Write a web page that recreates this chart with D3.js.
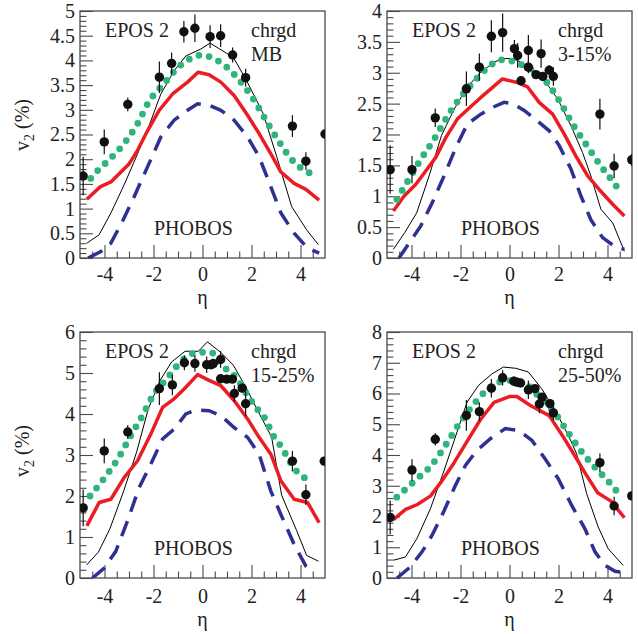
<!DOCTYPE html>
<html><head><meta charset="utf-8">
<script src="https://cdn.jsdelivr.net/npm/d3@7"></script>
<style>html,body{margin:0;padding:0;background:#fff}svg{display:block}
svg text{font-family:"Liberation Serif","DejaVu Serif",serif !important;}</style>
</head><body><svg id="c" width="638" height="634" font-family="Liberation Serif, DejaVu Serif, serif"></svg>
<script>
// ---------------- DATA ----------------
const panelLabels = ["MB", "3-15%", "15-25%", "25-50%"];
const modelLabel = "EPOS 2";
const particleLabel = "chrgd";
const expLabel = "PHOBOS";
const xTicks = [-4, -2, 0, 2, 4];
const yTicksMB = [0, 0.5, 1, 1.5, 2, 2.5, 3, 3.5, 4, 4.5, 5];
const yTicks3_15 = [0, 0.5, 1, 1.5, 2, 2.5, 3, 3.5, 4];
const yTicks15_25 = [0, 1, 2, 3, 4, 5, 6];
const yTicks25_50 = [0, 1, 2, 3, 4, 5, 6, 7, 8];

// PHOBOS data points: eta, v2 (%), error
const etaMB = [-4.87, -4.01, -3.05, -1.76, -1.26, -0.76, -0.31, 0.31, 0.74, 1.23, 1.76, 3.67, 4.22, 5.0];
const v2MB = [1.66, 2.35, 3.11, 3.66, 3.94, 4.58, 4.65, 4.48, 4.50, 4.11, 3.65, 2.67, 1.96, 2.51];
const errMB = [0.39, 0.25, 0.14, 0.32, 0.22, 0.22, 0.28, 0.23, 0.23, 0.15, 0.18, 0.22, 0.18, 0.1];

const eta3_15 = [-4.87, -3.98, -3.03, -1.76, -1.23, -0.74, -0.28, 0.2, 0.33, 0.47, 0.77, 0.77, 1.08, 1.29, 1.36, 1.62, 1.79, 3.69, 4.27, 4.99];
const v23_15 = [1.43, 1.43, 2.27, 2.74, 3.09, 3.59, 3.65, 3.39, 3.28, 2.87, 3.36, 3.09, 2.97, 3.31, 2.94, 3.04, 2.94, 2.33, 1.49, 1.59];
const err3_15 = [0.39, 0.22, 0.15, 0.28, 0.22, 0.26, 0.31, 0.14, 0.2, 0.04, 0.25, 0.1, 0.05, 0.23, 0.05, 0.08, 0.15, 0.25, 0.2, 0.1];

const eta15_25 = [-4.87, -4.01, -3.05, -1.76, -1.23, -0.74, -0.31, 0.17, 0.35, 0.44, 0.74, 0.74, 0.99, 1.22, 1.30, 1.62, 1.76, 3.67, 4.22, 4.97];
const v215_25 = [1.71, 3.10, 3.56, 4.62, 4.71, 5.25, 5.23, 5.20, 5.20, 5.23, 5.33, 4.86, 4.85, 4.85, 4.50, 4.63, 4.25, 2.85, 2.03, 2.85];
const err15_25 = [0.45, 0.3, 0.17, 0.4, 0.25, 0.18, 0.2, 0.2, 0.1, 0.1, 0.2, 0.08, 0.05, 0.05, 0.2, 0.1, 0.3, 0.25, 0.25, 0.1];

const eta25_50 = [-4.87, -3.98, -3.03, -1.76, -1.23, -0.74, -0.28, 0.18, 0.30, 0.45, 0.77, 1.04, 1.22, 1.33, 1.65, 1.79, 3.69, 4.27, 4.99];
const v225_50 = [1.97, 3.51, 4.51, 5.29, 5.41, 6.17, 6.51, 6.40, 6.37, 6.34, 6.12, 6.16, 5.66, 5.88, 5.67, 5.37, 3.75, 2.34, 2.67];
const err25_50 = [0.55, 0.35, 0.2, 0.5, 0.3, 0.3, 0.25, 0.15, 0.15, 0.1, 0.3, 0.1, 0.3, 0.1, 0.1, 0.25, 0.3, 0.3, 0.1];

// EPOS curves: [eta, v2]
const greenMB = [[-4.56,1.61],[-4.22,1.80],[-3.85,1.97],[-3.20,2.32],[-2.65,2.72],[-2.18,3.17],[-1.59,3.52],[-0.95,3.88],[-0.34,4.07],[-0.03,4.11],[0.31,4.07],[0.95,3.88],[1.52,3.59],[2.11,3.19],[2.61,2.77],[3.13,2.35],[3.70,1.96],[4.05,1.81],[4.49,1.70]];
const redMB = [[-4.72,1.19],[-4.18,1.44],[-3.74,1.54],[-2.99,1.91],[-2.65,2.18],[-2.24,2.58],[-1.77,2.99],[-1.22,3.32],[-0.61,3.56],[-0.18,3.76],[0.27,3.71],[0.75,3.56],[1.29,3.29],[1.84,2.89],[2.31,2.52],[2.79,2.11],[3.20,1.74],[3.74,1.51],[4.22,1.39],[4.76,1.17]];
const blackMB = [[-4.72,0.30],[-4.22,0.47],[-3.74,0.91],[-3.20,1.48],[-2.65,2.11],[-2.18,2.68],[-1.70,3.32],[-1.16,3.79],[-0.68,4.09],[-0.07,4.23],[0.31,4.35],[1.26,4.06],[1.80,3.59],[2.48,2.92],[3.03,2.05],[3.64,1.04],[4.25,0.57],[4.73,0.27]];
const blueMB = [[-4.67,0.0],[-4.15,0.13],[-3.74,0.30],[-3.27,0.74],[-2.79,1.24],[-2.24,1.85],[-1.70,2.45],[-1.16,2.79],[-0.61,2.99],[-0.20,3.12],[0.27,3.09],[0.75,2.99],[1.29,2.79],[1.84,2.45],[2.31,2.05],[2.79,1.44],[3.20,0.91],[3.74,0.50],[4.29,0.20],[4.76,0.10]];

const green3_15 = [[-4.60,0.95],[-4.10,1.28],[-3.60,1.61],[-3.05,1.94],[-2.56,2.28],[-2.02,2.59],[-1.44,2.86],[-0.87,3.09],[-0.31,3.21],[-0.01,3.20],[0.30,3.16],[0.94,3.04],[1.59,2.81],[2.13,2.48],[2.62,2.14],[3.16,1.82],[3.71,1.50],[4.31,1.19],[4.58,1.03]];
const red3_15 = [[-4.74,0.76],[-4.31,1.00],[-3.83,1.19],[-3.42,1.41],[-3.01,1.63],[-2.60,1.95],[-2.13,2.25],[-1.61,2.44],[-1.17,2.60],[-0.76,2.74],[-0.29,2.90],[0.33,2.84],[0.74,2.77],[1.21,2.52],[1.76,2.33],[2.23,2.01],[2.71,1.65],[3.19,1.33],[3.66,1.11],[4.21,0.87],[4.69,0.68]];
const black3_15 = [[-4.74,0.14],[-4.28,0.41],[-3.79,0.73],[-3.28,1.33],[-2.78,1.98],[-2.26,2.41],[-1.72,2.77],[-1.17,3.01],[-0.63,3.17],[-0.29,3.23],[0.05,3.23],[0.33,3.20],[0.87,3.07],[1.42,2.88],[1.96,2.58],[2.51,2.14],[2.98,1.71],[3.32,1.33],[3.73,0.79],[4.21,0.57],[4.69,0.11]];
const blue3_15 = [[-4.51,0.0],[-4.10,0.24],[-3.62,0.52],[-3.15,0.90],[-2.67,1.33],[-2.19,1.79],[-1.72,2.17],[-1.17,2.33],[-0.69,2.44],[-0.22,2.52],[0.12,2.50],[0.60,2.39],[1.14,2.22],[1.62,2.06],[2.03,1.82],[2.51,1.44],[2.92,1.00],[3.32,0.62],[3.80,0.33],[4.28,0.19],[4.69,0.14]];

const green15_25 = [[-4.59,2.00],[-3.99,2.45],[-3.40,2.96],[-2.93,3.47],[-2.45,3.96],[-2.00,4.47],[-1.43,4.88],[-0.86,5.29],[-0.30,5.49],[0.31,5.51],[0.88,5.14],[1.36,4.90],[1.84,4.45],[2.18,4.16],[2.52,3.92],[2.93,3.43],[3.24,3.18],[3.47,2.94],[3.77,2.65],[4.08,2.49],[4.42,2.30]];
const red15_25 = [[-4.72,1.27],[-4.22,1.84],[-3.74,1.92],[-3.20,2.45],[-2.65,2.86],[-2.11,3.51],[-1.63,4.16],[-1.16,4.37],[-0.75,4.61],[-0.20,4.96],[0.27,4.82],[0.75,4.69],[1.29,4.33],[1.84,3.88],[2.31,3.43],[2.79,3.02],[3.20,2.37],[3.74,1.92],[4.29,1.84],[4.76,1.35]];
const black15_25 = [[-4.73,0.32],[-4.25,0.63],[-3.78,1.20],[-3.23,2.10],[-2.69,3.07],[-2.21,4.13],[-1.73,4.82],[-1.26,5.27],[-0.71,5.53],[-0.17,5.53],[0.2,5.76],[0.75,5.50],[1.26,5.19],[1.80,4.62],[2.28,4.05],[2.82,3.44],[3.23,2.02],[3.84,1.16],[4.25,0.55],[4.73,0.41]];
const blue15_25 = [[-4.49,0.0],[-4.01,0.24],[-3.54,0.65],[-3.06,1.39],[-2.59,2.20],[-2.11,2.78],[-1.63,3.39],[-1.16,3.63],[-0.68,4.00],[-0.27,4.10],[0.27,4.08],[0.75,3.96],[1.29,3.67],[1.84,3.43],[2.31,3.02],[2.79,2.12],[3.20,1.55],[3.74,0.82],[4.22,0.29],[4.49,0.15]];

const green25_50 = [[-4.60,2.63],[-3.87,3.16],[-3.15,3.70],[-2.60,4.33],[-2.06,5.01],[-1.47,5.64],[-0.87,6.15],[-0.29,6.40],[0.01,6.42],[0.60,6.33],[1.21,5.90],[1.83,5.39],[2.34,4.79],[2.92,4.13],[3.50,3.59],[4.14,3.05],[4.39,2.81]];
const red25_50 = [[-4.74,1.90],[-4.24,2.23],[-3.76,2.39],[-3.22,2.67],[-2.81,3.10],[-2.26,3.75],[-1.72,4.46],[-1.17,5.17],[-0.63,5.71],[-0.01,5.90],[0.30,5.90],[0.87,5.60],[1.62,5.28],[2.17,4.62],[2.71,3.92],[3.12,3.37],[3.60,2.77],[4.14,2.50],[4.69,1.96]];
const black25_50 = [[-4.73,0.58],[-4.25,0.68],[-3.78,1.28],[-3.23,2.25],[-2.69,3.45],[-2.14,4.75],[-1.73,5.72],[-1.26,6.27],[-0.71,6.64],[-0.25,6.86],[0.25,6.82],[0.77,6.70],[1.31,6.16],[1.86,5.45],[2.40,4.64],[2.74,4.04],[3.15,2.74],[3.62,1.66],[4.03,0.95],[4.64,0.41]];
const blue25_50 = [[-4.59,0.0],[-4.05,0.36],[-3.57,0.85],[-3.16,1.39],[-2.69,2.15],[-2.21,3.01],[-1.80,3.66],[-1.33,4.15],[-0.78,4.53],[-0.17,4.86],[0.36,4.80],[0.91,4.48],[1.45,3.88],[1.99,3.23],[2.54,2.36],[3.08,1.60],[3.49,0.85],[3.90,0.41],[4.31,0.22],[4.71,0.17]];

// ---------------- BUILD ----------------
const panels = [
  {label: panelLabels[0], yTicks: yTicksMB, minor: 0.1, eta: etaMB, v2: v2MB, err: errMB, green: greenMB, red: redMB, black: blackMB, blue: blueMB},
  {label: panelLabels[1], yTicks: yTicks3_15, minor: 0.1, eta: eta3_15, v2: v23_15, err: err3_15, green: green3_15, red: red3_15, black: black3_15, blue: blue3_15},
  {label: panelLabels[2], yTicks: yTicks15_25, minor: 0.2, eta: eta15_25, v2: v215_25, err: err15_25, green: green15_25, red: red15_25, black: black15_25, blue: blue15_25},
  {label: panelLabels[3], yTicks: yTicks25_50, minor: 0.2, eta: eta25_50, v2: v225_50, err: err25_50, green: green25_50, red: red25_50, black: black25_50, blue: blue25_50}
];

const frames = [
  {L: 80, R: 325, T: 11, B: 258, tickLab: 23, title: 45.5, ytY: 125},
  {L: 387, R: 632, T: 11, B: 258, tickLab: 23, title: 45.5, ytY: 125},
  {L: 80, R: 325, T: 332, B: 578, tickLab: 25, title: 47.5, ytY: 451},
  {L: 387, R: 632, T: 332, B: 578, tickLab: 25, title: 47.5, ytY: 451}
];

const FONT = "Liberation Serif, DejaVu Serif, serif";
const svg = d3.select("#c");
const defs = svg.append("defs");

const COL_GREEN = "#2fb47c", COL_RED = "#ec1c24", COL_BLUE = "#2e3192", AXC = "#4a4a4a";

panels.forEach((p, i) => {
  const f = frames[i];
  const yMax = p.yTicks[p.yTicks.length - 1];
  const x = d3.scaleLinear().domain([-5, 5]).range([f.L, f.R]);
  const y = d3.scaleLinear().domain([0, yMax]).range([f.B, f.T]);
  const g = svg.append("g");

  defs.append("clipPath").attr("id", "clip" + i).append("rect")
    .attr("x", f.L).attr("y", f.T).attr("width", f.R - f.L).attr("height", f.B - f.T);

  const eps = 1e-6;
  const xMinor = d3.range(-4.5, 5, 0.5).filter(v => !xTicks.some(t => Math.abs(t - v) < eps));
  const yMinor = d3.range(p.minor, yMax - eps, p.minor).filter(v => !p.yTicks.some(t => Math.abs(t - v) < eps));

  const axX = d3.axisBottom(x).tickValues(xTicks).tickSizeInner(-13).tickSizeOuter(0).tickPadding(f.tickLab - 14).tickFormat(d => String(d));
  const axXm = d3.axisBottom(x).tickValues(xMinor).tickSizeInner(-6.5).tickSizeOuter(0).tickFormat("");
  const axY = d3.axisLeft(y).tickValues(p.yTicks).tickSizeInner(-13).tickSizeOuter(0).tickPadding(5).tickFormat(d => String(d));
  const axYm = d3.axisLeft(y).tickValues(yMinor).tickSizeInner(-6.5).tickSizeOuter(0).tickFormat("");

  [[axXm, "x"], [axX, "x"], [axYm, "y"], [axY, "y"]].forEach(([ax, k]) => {
    const a = g.append("g").attr("transform", k === "x" ? `translate(0,${f.B})` : `translate(${f.L},0)`).call(ax);
    a.attr("font-family", FONT).attr("font-size", 20);
    a.select(".domain").remove();
    a.selectAll("line").attr("stroke", AXC).attr("stroke-width", 1.1);
    a.selectAll("text").attr("fill", "#222").attr("font-family", FONT).attr("font-size", 20);
  });

  g.append("rect").attr("x", f.L).attr("y", f.T).attr("width", f.R - f.L).attr("height", f.B - f.T)
    .attr("fill", "none").attr("stroke", AXC).attr("stroke-width", 1.3);

  const line = d3.line().x(d => x(d[0])).y(d => y(d[1]));
  const plot = g.append("g").attr("clip-path", `url(#clip${i})`);

  plot.append("path").attr("d", line.curve(d3.curveLinear)(p.black)).attr("fill", "none").attr("stroke", "#000").attr("stroke-width", 1);
  plot.append("path").attr("d", line.curve(d3.curveLinear)(p.blue)).attr("fill", "none").attr("stroke", COL_BLUE).attr("stroke-width", 3.5).attr("stroke-dasharray", "16,10");
  plot.append("path").attr("d", line.curve(d3.curveLinear)(p.red)).attr("fill", "none").attr("stroke", COL_RED).attr("stroke-width", 3.5).attr("stroke-linejoin", "round");
  plot.append("path").attr("d", line.curve(d3.curveMonotoneX)(p.green)).attr("fill", "none").attr("stroke", COL_GREEN).attr("stroke-width", 6.8).attr("stroke-linecap", "round").attr("stroke-dasharray", "0,10.4");

  const pts = p.eta.map((e, j) => ({e, v: p.v2[j], s: p.err[j]}));
  plot.selectAll(".eb").data(pts).enter().append("line")
    .attr("x1", d => x(d.e)).attr("x2", d => x(d.e))
    .attr("y1", d => y(d.v - d.s)).attr("y2", d => y(d.v + d.s))
    .attr("stroke", "#111").attr("stroke-width", 1.2);
  plot.selectAll(".pt").data(pts).enter().append("circle")
    .attr("cx", d => x(d.e)).attr("cy", d => y(d.v)).attr("r", 4.7).attr("fill", "#111");

  const txt = (s, tx, ty) => g.append("text").attr("x", tx).attr("y", ty).text(s)
    .attr("font-family", FONT).attr("font-size", 20).attr("fill", "#222");
  txt(modelLabel, f.L + 25, f.T + 26);
  txt(particleLabel, f.L + 171, f.T + 26);
  txt(p.label, f.L + 171, f.T + 50);
  txt(expLabel, f.L + 74, f.B - 23);

  g.append("text").attr("x", (f.L + f.R) / 2).attr("y", f.B + f.title).attr("text-anchor", "middle")
    .attr("font-family", FONT).attr("font-size", 20).attr("fill", "#222").text("η");

  if (i % 2 === 0) {
    const t = g.append("text").attr("transform", `translate(29,${f.ytY}) rotate(-90)`).attr("text-anchor", "middle")
      .attr("font-family", FONT).attr("font-size", 20).attr("fill", "#222");
    t.append("tspan").text("v");
    t.append("tspan").attr("dy", 5).attr("font-size", 14).text("2");
    t.append("tspan").attr("dy", -5).text("  (%)");
  }
});
</script>
</body></html>
